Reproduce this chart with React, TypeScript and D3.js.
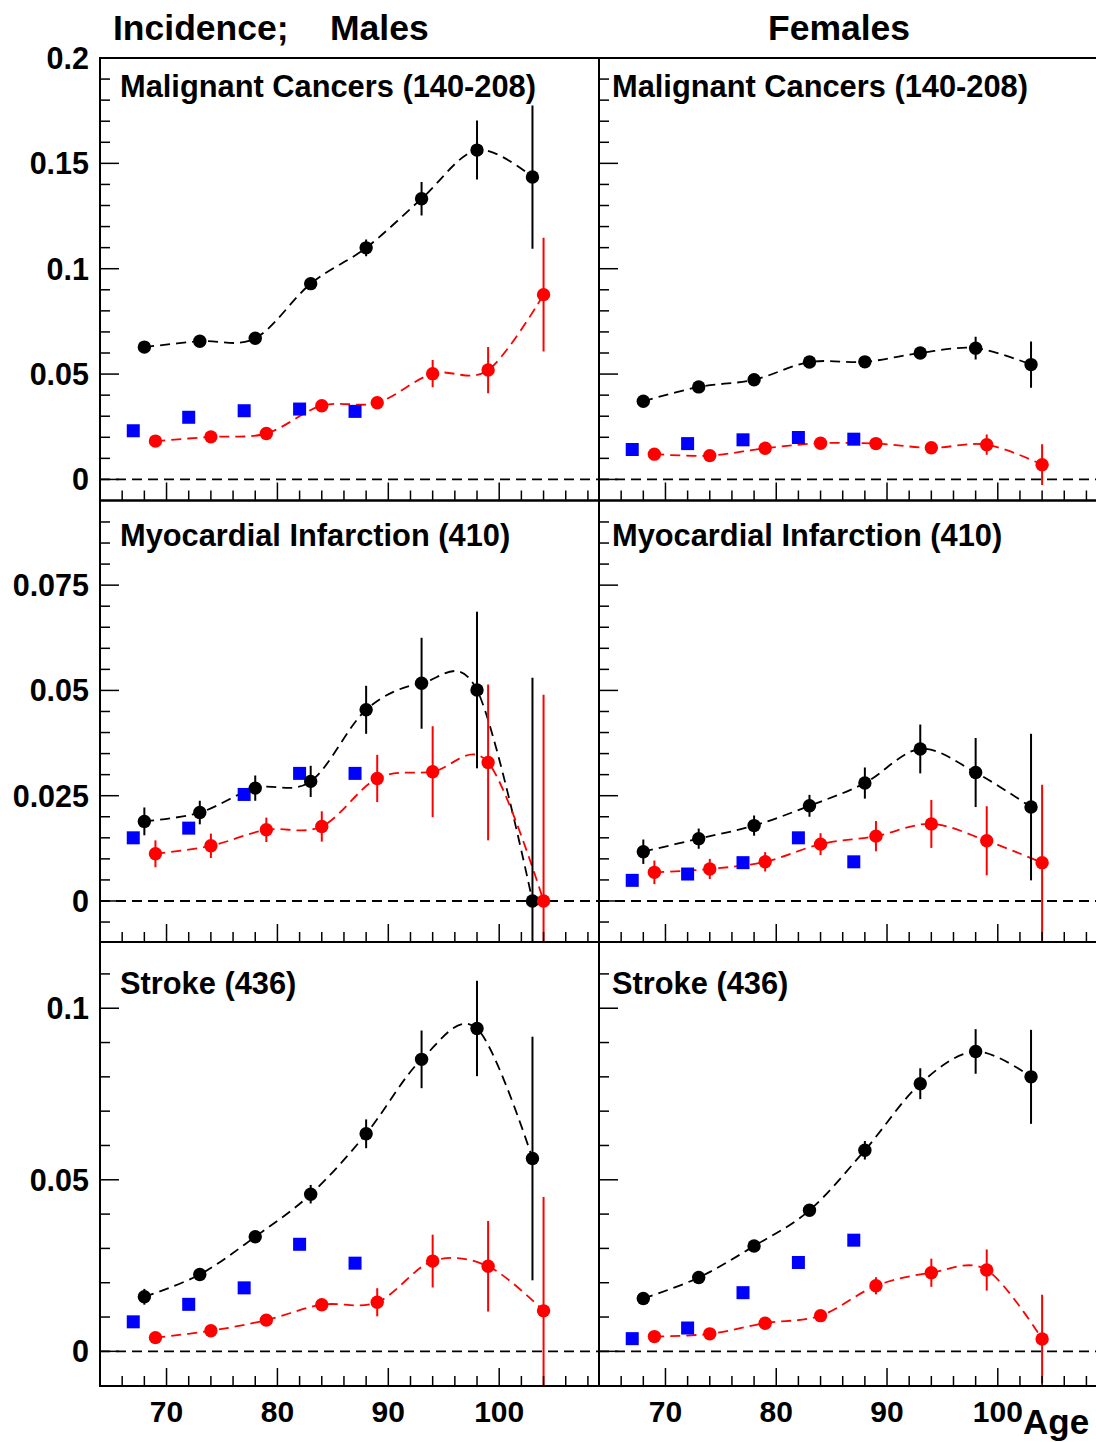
import React from 'react';
import * as d3 from 'd3';

// ---------- data ----------
const blackAges = [68, 73, 78, 83, 88, 93, 98, 103];
const redAges = [69, 74, 79, 84, 89, 94, 99, 104];
const blueAges = [67, 72, 77, 82, 87];

const mCancerBlack = [0.0628, 0.0656, 0.067, 0.0929, 0.1099, 0.1332, 0.1563, 0.1435];
const mCancerBlackErr = [0.0015, 0.0015, 0.0015, 0.002, 0.004, 0.008, 0.014, 0.034];
const mCancerRed = [0.0182, 0.0202, 0.0218, 0.035, 0.0364, 0.0502, 0.0519, 0.0877];
const mCancerRedErr = [0.001, 0.001, 0.0012, 0.0015, 0.002, 0.0065, 0.011, 0.027];
const mCancerBlue = [0.0231, 0.0295, 0.0326, 0.0334, 0.0323];

const fCancerBlack = [0.0371, 0.0439, 0.0473, 0.0557, 0.0558, 0.06, 0.0623, 0.0545];
const fCancerBlackErr = [0.001, 0.001, 0.0012, 0.0015, 0.0018, 0.0025, 0.0054, 0.011];
const fCancerRed = [0.012, 0.0113, 0.0148, 0.0172, 0.017, 0.015, 0.0165, 0.007];
const fCancerRedErr = [0.0008, 0.0008, 0.001, 0.0012, 0.0015, 0.002, 0.0048, 0.0097];
const fCancerBlue = [0.0142, 0.017, 0.0188, 0.0199, 0.0191];

const mMIBlack = [0.0189, 0.021, 0.0268, 0.0284, 0.0454, 0.0517, 0.0501, 0.0];
const mMIBlackErr = [0.0033, 0.0028, 0.003, 0.0037, 0.0057, 0.0108, 0.0186, 0.053];
const mMIRed = [0.0112, 0.0131, 0.0169, 0.0177, 0.0291, 0.0307, 0.0329, 0.0];
const mMIRedErr = [0.0032, 0.0029, 0.0029, 0.0036, 0.0056, 0.0108, 0.0185, 0.049];
const mMIBlue = [0.015, 0.0173, 0.0253, 0.0303, 0.0303];

const fMIBlack = [0.0117, 0.0148, 0.0179, 0.0226, 0.028, 0.0361, 0.0305, 0.0223];
const fMIBlackErr = [0.0029, 0.0024, 0.0024, 0.0026, 0.0037, 0.0058, 0.0082, 0.0174];
const fMIRed = [0.0068, 0.0076, 0.0093, 0.0135, 0.0154, 0.0183, 0.0143, 0.0091];
const fMIRedErr = [0.0028, 0.0024, 0.0023, 0.0026, 0.0036, 0.0057, 0.0082, 0.0185];
const fMIBlue = [0.0049, 0.0064, 0.0091, 0.015, 0.0093];

const mStrokeBlack = [0.0159, 0.0224, 0.0334, 0.0458, 0.0634, 0.0851, 0.0941, 0.0562];
const mStrokeBlackErr = [0.0023, 0.0015, 0.0015, 0.0027, 0.0042, 0.0084, 0.0139, 0.0355];
const mStrokeRed = [0.004, 0.006, 0.0091, 0.0136, 0.0143, 0.0263, 0.0248, 0.0118];
const mStrokeRedErr = [0.0015, 0.0015, 0.0012, 0.0017, 0.0041, 0.0077, 0.0132, 0.0332];
const mStrokeBlue = [0.0086, 0.0137, 0.0185, 0.0312, 0.0257];

const fStrokeBlack = [0.0154, 0.0215, 0.0307, 0.0411, 0.0586, 0.078, 0.0874, 0.08];
const fStrokeBlackErr = [0.0018, 0.0012, 0.0012, 0.0015, 0.0027, 0.0045, 0.0065, 0.0137];
const fStrokeRed = [0.0043, 0.0051, 0.0082, 0.0104, 0.0191, 0.0229, 0.0237, 0.0036];
const fStrokeRedErr = [0.0013, 0.001, 0.001, 0.0012, 0.0025, 0.0041, 0.006, 0.0129];
const fStrokeBlue = [0.0037, 0.0068, 0.0171, 0.0259, 0.0324];

const panelTitles = ['Malignant Cancers (140-208)', 'Myocardial Infarction (410)', 'Stroke (436)'];
const xMajorTicks = [70, 80, 90, 100];
const xTickLabels = ['70', '80', '90', '100'];
const rowMajorTicks = [
  [0, 0.05, 0.1, 0.15, 0.2],
  [0, 0.025, 0.05, 0.075],
  [0, 0.05, 0.1],
];
const rowMajorLabels = [
  ['0', '0.05', '0.1', '0.15', '0.2'],
  ['0', '0.025', '0.05', '0.075'],
  ['0', '0.05', '0.1'],
];

// ---------- layout ----------
const W = 1096;
const H = 1442;
const colX = [
  [100, 599],
  [599, 1097.5],
];
const rowY = [
  [58, 500.5],
  [500.5, 942],
  [942, 1386],
];
const xDomain = [64, 109];
const rowDomains = [
  [-0.01, 0.2],
  [-0.00974, 0.0951],
  [-0.0101, 0.1193],
];
const rowMinorStep = [0.01, 0.005, 0.01];
const FONT = "'Liberation Sans', Arial, Helvetica, sans-serif";
const R = 6.7;
const SQ = 13;

type Series = { black: number[]; blackErr: number[]; red: number[]; redErr: number[]; blue: number[] };

const panels: { row: number; col: number; s: Series }[] = [
  { row: 0, col: 0, s: { black: mCancerBlack, blackErr: mCancerBlackErr, red: mCancerRed, redErr: mCancerRedErr, blue: mCancerBlue } },
  { row: 0, col: 1, s: { black: fCancerBlack, blackErr: fCancerBlackErr, red: fCancerRed, redErr: fCancerRedErr, blue: fCancerBlue } },
  { row: 1, col: 0, s: { black: mMIBlack, blackErr: mMIBlackErr, red: mMIRed, redErr: mMIRedErr, blue: mMIBlue } },
  { row: 1, col: 1, s: { black: fMIBlack, blackErr: fMIBlackErr, red: fMIRed, redErr: fMIRedErr, blue: fMIBlue } },
  { row: 2, col: 0, s: { black: mStrokeBlack, blackErr: mStrokeBlackErr, red: mStrokeRed, redErr: mStrokeRedErr, blue: mStrokeBlue } },
  { row: 2, col: 1, s: { black: fStrokeBlack, blackErr: fStrokeBlackErr, red: fStrokeRed, redErr: fStrokeRedErr, blue: fStrokeBlue } },
];

const titleBaselines = [97, 546, 994];

function Panel({ row, col, s }: { row: number; col: number; s: Series }) {
  const [x0, x1] = colX[col];
  const [y0, y1] = rowY[row];
  const x = d3.scaleLinear().domain(xDomain).range([x0, x1]);
  const y = d3.scaleLinear().domain(rowDomains[row]).range([y1, y0]);
  const line = d3
    .line<[number, number]>()
    .x((d) => x(d[0]))
    .y((d) => y(d[1]))
    .curve(d3.curveCardinal.tension(0));
  const clipId = `clip-${row}-${col}`;

  const minorY: number[] = [];
  const [dmin, dmax] = rowDomains[row];
  const step = rowMinorStep[row];
  for (let k = Math.ceil(dmin / step - 1e-6); k * step <= dmax + 1e-9; k++) {
    const v = k * step;
    if (y(v) > y0 + 1 && y(v) < y1 - 1) minorY.push(v);
  }
  const minorX = d3.range(66, 109, 2);

  const blackPts: [number, number][] = blackAges.map((a, i) => [a, s.black[i]]);
  const redPts: [number, number][] = redAges.map((a, i) => [a, s.red[i]]);

  return (
    <g>
      <defs>
        <clipPath id={clipId}>
          <rect x={x0} y={y0} width={x1 - x0} height={y1 - y0} />
        </clipPath>
      </defs>
      <g clipPath={`url(#${clipId})`}>
        <line x1={x0} x2={x1} y1={y(0)} y2={y(0)} stroke="#000" strokeWidth={1.8} strokeDasharray="10,6" />
        <path d={line(blackPts) || ''} fill="none" stroke="#000" strokeWidth={1.8} strokeDasharray="10,6" />
        <path d={line(redPts) || ''} fill="none" stroke="#ff0000" strokeWidth={1.8} strokeDasharray="10,6" />
        {blackAges.map((a, i) => (
          <line key={`be${i}`} x1={x(a)} x2={x(a)} y1={y(s.black[i] - s.blackErr[i])} y2={y(s.black[i] + s.blackErr[i])} stroke="#000" strokeWidth={2} />
        ))}
        {redAges.map((a, i) => (
          <line key={`re${i}`} x1={x(a)} x2={x(a)} y1={y(s.red[i] - s.redErr[i])} y2={y(s.red[i] + s.redErr[i])} stroke="#ff0000" strokeWidth={2} />
        ))}
        {blueAges.map((a, i) => (
          <rect key={`bl${i}`} x={x(a) - SQ / 2} y={y(s.blue[i]) - SQ / 2} width={SQ} height={SQ} fill="#0000ff" />
        ))}
        {blackAges.map((a, i) => (
          <circle key={`bc${i}`} cx={x(a)} cy={y(s.black[i])} r={R} fill="#000" />
        ))}
        {redAges.map((a, i) => (
          <circle key={`rc${i}`} cx={x(a)} cy={y(s.red[i])} r={R} fill="#ff0000" />
        ))}
      </g>
      {minorX.map((v) => {
        const len = xMajorTicks.includes(v) ? 18 : 10;
        return <line key={`xt${v}`} x1={x(v)} x2={x(v)} y1={y1} y2={y1 - len} stroke="#000" strokeWidth={1.5} />;
      })}
      {minorY.map((v) => {
        const isMajor = rowMajorTicks[row].some((m) => Math.abs(m - v) < 1e-9);
        return <line key={`yt${v}`} x1={x0} x2={x0 + (isMajor ? 19 : 10)} y1={y(v)} y2={y(v)} stroke="#000" strokeWidth={1.5} />;
      })}
      <rect x={x0} y={y0} width={x1 - x0} height={y1 - y0} fill="none" stroke="#000" strokeWidth={2} />
      {col === 0 &&
        rowMajorTicks[row].map((v, i) => (
          <text key={`yl${i}`} x={89} y={y(v) + 11} textAnchor="end" fontFamily={FONT} fontWeight="bold" fontSize={30.5}>
            {rowMajorLabels[row][i]}
          </text>
        ))}
      {row === 2 &&
        xMajorTicks.map((v, i) => (
          <text key={`xl${i}`} x={x(v)} y={1422} textAnchor="middle" fontFamily={FONT} fontWeight="bold" fontSize={30}>
            {xTickLabels[i]}
          </text>
        ))}
      <text x={col === 0 ? 120 : 612} y={titleBaselines[row]} fontFamily={FONT} fontWeight="bold" fontSize={30.8}>
        {panelTitles[row]}
      </text>
    </g>
  );
}

export default function App() {
  return (
    <svg width={W} height={H} style={{ position: 'absolute', left: 0, top: 0, background: '#fff' }} xmlns="http://www.w3.org/2000/svg">
      <rect x={0} y={0} width={W} height={H} fill="#fff" />
      <text x={113} y={40} fontFamily={FONT} fontWeight="bold" fontSize={35.5}>Incidence;</text>
      <text x={330} y={40} fontFamily={FONT} fontWeight="bold" fontSize={35.5}>Males</text>
      <text x={839} y={40} textAnchor="middle" fontFamily={FONT} fontWeight="bold" fontSize={35.5}>Females</text>
      {panels.map((p) => (
        <Panel key={`${p.row}-${p.col}`} row={p.row} col={p.col} s={p.s} />
      ))}
      <text x={1023} y={1434} fontFamily={FONT} fontWeight="bold" fontSize={35}>Age</text>
    </svg>
  );
}
